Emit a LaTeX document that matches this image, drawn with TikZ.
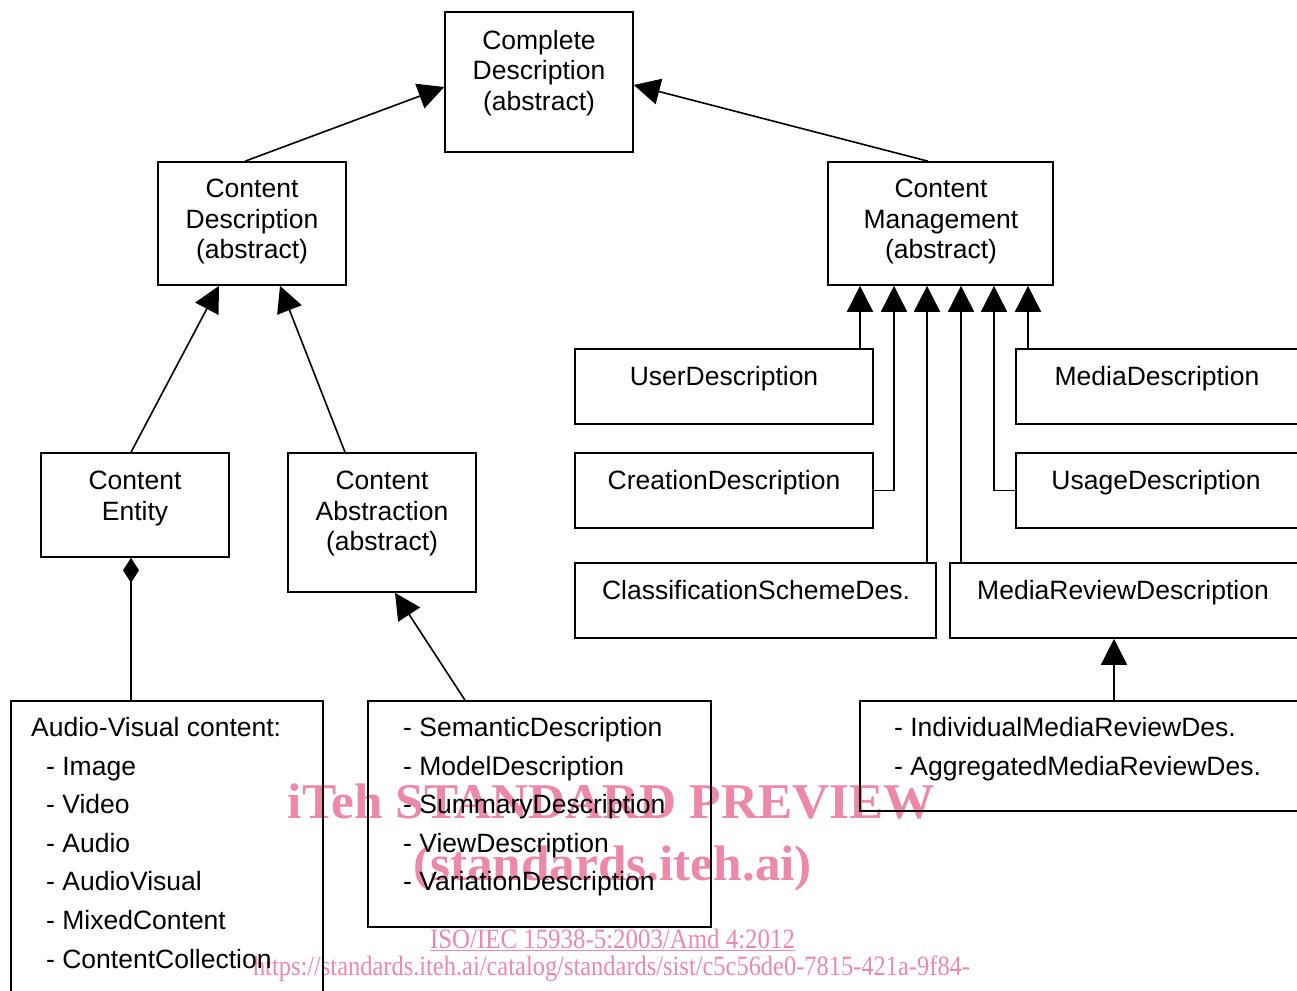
\documentclass[tikz,border=0pt]{standalone}
\usepackage{fontspec}
\setmainfont{Liberation Sans}
\newfontfamily\wmfont{Liberation Serif}
\usetikzlibrary{arrows.meta}
\definecolor{wmpink}{RGB}{236,137,168}
\newcommand\fs{\fontsize{26.5}{30.5}\selectfont}
\newcommand\fsl{\fontsize{26.5}{38.6}\selectfont}
\begin{document}
\begin{tikzpicture}[x=1pt,y=-1pt,
  box/.style={draw, line width=1.6pt, inner sep=0pt},
  ttl/.style={anchor=north, inner sep=0pt, align=center, font=\fs},
  one/.style={anchor=base, inner sep=0pt, font=\fs},
  lst/.style={anchor=north west, inner sep=0pt, align=left, font=\fsl},
  wm/.style={anchor=base, inner sep=0pt, text=wmpink},
  inh/.style={line width=1.6pt, -{Triangle[length=26pt,width=26pt]}},
  comp/.style={line width=1.6pt, -{Diamond[length=25pt,width=16pt]}}]
\useasboundingbox (0,0) rectangle (1297,990);
\clip (0,0) rectangle (1297,990);

% watermark, set underneath the diagram
\node[wm] (wm1) at (611.5,818) {\resizebox{647pt}{\height}{\wmfont\bfseries\fontsize{50}{50}\selectfont iTeh STANDARD PREVIEW}};
\node[wm] (wm2) at (612.5,880) {\resizebox{399pt}{\height}{\wmfont\bfseries\fontsize{50}{50}\selectfont (standards.iteh.ai)}};
\node[wm] (wm3) at (612.5,948) {\resizebox{365pt}{\height}{\wmfont\fontsize{28}{28}\selectfont\underline{ISO/IEC 15938-5:2003/Amd 4:2012}}};
\node[wm] (wm4) at (611.5,975) {\resizebox{717pt}{\height}{\wmfont\fontsize{28}{28}\selectfont https://standards.iteh.ai/catalog/standards/sist/c5c56de0-7815-421a-9f84-}};

% class boxes
\node[box, minimum width=188, minimum height=140] (cd) at (539,82) {};
\node[box, minimum width=188, minimum height=123] (cdesc) at (252,223.5) {};
\node[box, minimum width=225, minimum height=123] (cm) at (940.5,223.5) {};
\node[box, minimum width=188, minimum height=104] (entity) at (135,505) {};
\node[box, minimum width=188, minimum height=139] (abs) at (382,522.5) {};
\node[box, minimum width=298, minimum height=75] (user) at (724,386.5) {};
\node[box, minimum width=298, minimum height=75] (creation) at (724,490.5) {};
\node[box, minimum width=361, minimum height=75] (class) at (755.5,600.5) {};
\node[box, minimum width=350, minimum height=75] (mrd) at (1125,600.5) {};
\node[box, minimum width=284, minimum height=75] (media) at (1158,386.5) {};
\node[box, minimum width=284, minimum height=75] (usage) at (1158,490.5) {};
\node[box, minimum width=312, minimum height=309] (av) at (167,855.5) {};
\node[box, minimum width=343, minimum height=226] (sem) at (539.5,814) {};
\node[box, minimum width=440, minimum height=110] (indiv) at (1080,756) {};

% box texts
\node[ttl] (tcd) at (539,30) {Complete\\Description\\(abstract)};
\node[ttl] (tcdesc) at (252,179) {Content\\Description\\(abstract)};
\node[ttl] (tcm) at (941,179) {Content\\Management\\(abstract)};
\node[ttl] (tentity) at (135,471) {Content\\Entity};
\node[ttl] (tabs) at (382,471) {Content\\Abstraction\\(abstract)};
\node[one] (tuser) at (724,385.5) {UserDescription};
\node[one] (tcreation) at (724,489.5) {CreationDescription};
\node[one] (tclass) at (756,599.5) {ClassificationSchemeDes.};
\node[one] (tmrd) at (1123,599.5) {MediaReviewDescription};
\node[one] (tmedia) at (1157,385.5) {MediaDescription};
\node[one] (tusage) at (1156,489.5) {UsageDescription};
\node[lst] (tav) at (31,717) {Audio-Visual content:\\
  \hspace*{15pt}- Image\\ \hspace*{15pt}- Video\\ \hspace*{15pt}- Audio\\
  \hspace*{15pt}- AudioVisual\\ \hspace*{15pt}- MixedContent\\
  \hspace*{15pt}- ContentCollection};
\node[lst] (tsem) at (403,717) {- SemanticDescription\\- ModelDescription\\
  - SummaryDescription\\- ViewDescription\\- VariationDescription};
\node[lst] (tindiv) at (894,717) {- IndividualMediaReviewDes.\\- AggregatedMediaReviewDes.};

% generalisation connectors
\draw[inh] ([xshift=-7pt]cdesc.north) -- ([yshift=-5pt]cd.west);
\draw[inh] ([xshift=-12.5pt]cm.north) -- ([yshift=-3pt]cd.east);
\draw[inh] ([xshift=-4pt]entity.north) -- ([xshift=-33pt]cdesc.south);
\draw[inh] ([xshift=-37pt]abs.north) -- ([xshift=28pt]cdesc.south);
\draw[inh] ([xshift=-74.5pt]sem.north) -- ([xshift=13pt]abs.south);
\draw[inh] (user.north -| 860,0) -- (cm.south -| 860,0);
\draw[inh] (creation.east) -| (cm.south -| 894,0);
\draw[inh] (class.north -| 927,0) -- (cm.south -| 927,0);
\draw[inh] (mrd.north -| 961,0) -- (cm.south -| 961,0);
\draw[inh] (usage.west) -| (cm.south -| 994,0);
\draw[inh] (media.north -| 1028,0) -- (cm.south -| 1028,0);
\draw[inh] (indiv.north -| 1114,0) -- (mrd.south -| 1114,0);

% composition
\draw[comp] (av.north -| 131,0) -- (entity.south -| 131,0);
\end{tikzpicture}
\end{document}
